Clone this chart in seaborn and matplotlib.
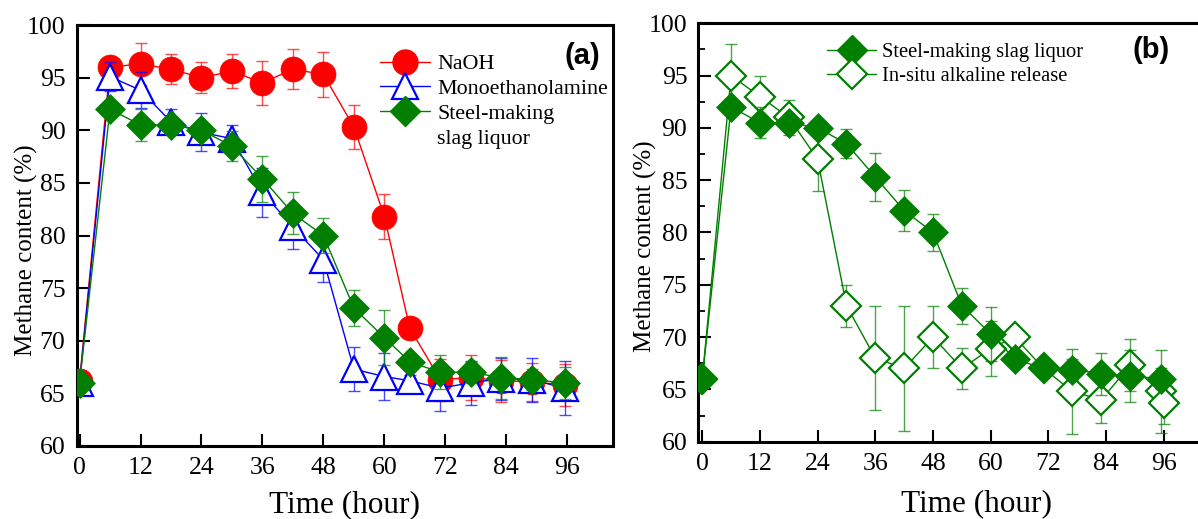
import numpy as np
import pandas as pd
import matplotlib
matplotlib.use("Agg")
import matplotlib.pyplot as plt
import seaborn as sns
from matplotlib.lines import Line2D
from matplotlib.ticker import MultipleLocator

# ---------------- data ----------------
hours = [0, 6, 12, 18, 24, 30, 36, 42, 48, 54, 60, 65, 71, 77, 83, 89, 95.5]

naoh = [66.2, 96.0, 96.3, 95.8, 95.0, 95.6, 94.5, 95.8, 95.3, 90.3, 81.8, 71.2, 66.3, 66.5, 66.2, 66.1, 65.8]
naoh_err = [0.3, 0.4, 2.0, 1.4, 1.5, 1.6, 2.1, 1.9, 2.1, 2.1, 2.1, 0.5, 2.0, 2.1, 2.0, 1.8, 2.0]

mea = [66.0, 95.1, 93.8, 90.8, 89.8, 89.2, 84.1, 80.8, 77.7, 67.3, 66.6, 66.2, 65.5, 66.0, 66.4, 66.3, 65.5]
mea_err = [0.3, 1.4, 1.7, 1.2, 1.8, 1.3, 2.3, 2.1, 2.1, 2.1, 2.2, 0.5, 2.2, 2.1, 2.0, 2.1, 2.6]

slag_a = [66.0, 92.0, 90.5, 90.5, 90.0, 88.5, 85.4, 82.1, 80.0, 73.1, 70.3, 68.0, 67.0, 67.0, 66.5, 66.3, 66.0]
slag_a_err = [0.3, 0.5, 1.5, 0.6, 0.5, 1.4, 2.2, 2.0, 1.7, 1.7, 2.6, 0.5, 1.6, 1.0, 2.0, 1.0, 1.5]

slag_b = [66.0, 92.0, 90.5, 90.5, 90.0, 88.5, 85.3, 82.1, 80.0, 73.0, 70.3, 67.9, 67.0, 66.9, 66.5, 66.3, 66.0]
slag_b_err = [0.3, 0.5, 1.5, 0.5, 0.5, 1.4, 2.3, 2.0, 1.8, 1.7, 2.6, 0.5, 0.8, 1.0, 2.0, 2.5, 1.0]

hours_insitu = [0, 6, 12, 18, 24, 30, 36, 42, 48, 54, 60, 65, 71, 77, 83, 89, 95.5, 96]
insitu = [66.0, 95.0, 93.0, 91.0, 87.0, 73.0, 68.0, 67.0, 70.0, 67.0, 68.9, 70.0, 67.0, 64.8, 64.0, 67.3, 64.8, 63.7]
insitu_err = [0.3, 3.0, 2.0, 1.7, 3.0, 2.0, 5.0, 6.0, 3.0, 2.0, 2.6, 0.4, 0.5, 4.1, 2.2, 2.5, 4.0, 2.0]

xticks = [0, 12, 24, 36, 48, 60, 72, 84, 96]
yticks = [60, 65, 70, 75, 80, 85, 90, 95, 100]

RED, BLUE, GREEN = "#FF0000", "#0000FF", "#007F00"

# ---------------- style ----------------
sns.set_theme(style="ticks")
plt.rcParams["font.family"] = ["Liberation Serif", "DejaVu Serif"]
for k in ["text.color", "axes.labelcolor", "xtick.color", "ytick.color", "axes.edgecolor"]:
    plt.rcParams[k] = "black"

W, H = 1198, 519
fig = plt.figure(figsize=(W / 100, H / 100), dpi=100)
fig.patch.set_facecolor("white")


def px_axes(x0, y0, x1, y1):
    return fig.add_axes([x0 / W, 1 - y1 / H, (x1 - x0) / W, (y1 - y0) / H])


axa = px_axes(76.5, 25, 613, 446)
axb = px_axes(698.4, 23.3, 1234, 441.7)


def series(ax, x, y, err, color, marker, ms, mfc, mew, z):
    ax.errorbar(x, y, yerr=err, fmt="none", ecolor=color, alpha=0.7,
                elinewidth=1.0, capsize=4, capthick=1.0, zorder=z)
    df = pd.DataFrame({"x": x, "y": y})
    sns.lineplot(data=df, x="x", y="y", ax=ax, color=color, lw=1.0,
                 marker=marker, markersize=ms, markerfacecolor=mfc,
                 markeredgecolor=color, markeredgewidth=mew,
                 sort=False, errorbar=None, legend=False, zorder=z + 0.5)


series(axa, hours, naoh, naoh_err, RED, "o", 18, RED, 0.5, 3)
series(axa, hours, mea, mea_err, BLUE, "^", 19, "white", 1.6, 4)
series(axa, hours, slag_a, slag_a_err, GREEN, "D", 15.5, GREEN, 0.5, 5)

series(axb, hours_insitu, insitu, insitu_err, GREEN, "D", 14.8, "white", 1.6, 3)
series(axb, hours, slag_b, slag_b_err, GREEN, "D", 14.8, GREEN, 0.5, 4)

for ax, xmin, xmax in [(axa, -0.6, 105.0), (axb, -0.8, 110.6)]:
    ax.set_xlim(xmin, xmax)
    ax.set_ylim(60, 100)
    ax.set_xticks(xticks)
    ax.set_yticks(yticks)
    ax.tick_params(axis="both", which="major", direction="in", length=9,
                   width=1.5, labelsize=18.5, pad=8)
    for sp in ax.spines.values():
        sp.set_linewidth(2.2)
        sp.set_color("black")
    ax.set_xlabel("Time (hour)", fontsize=22.5)
    ax.set_ylabel("Methane content (%)", fontsize=18)
    ax.set_facecolor("white")

axb.yaxis.set_minor_locator(MultipleLocator(2.5))
axb.tick_params(axis="y", which="minor", direction="in", length=5, width=1.3)

axa.xaxis.set_label_coords(0.5, -0.104)
axa.yaxis.set_label_coords(-0.072, 0.465)
axb.xaxis.set_label_coords(0.52, -0.114)
axb.yaxis.set_label_coords(-0.077, 0.468)

# ---------------- legends ----------------
ha = [Line2D([], [], color=RED, lw=1, marker="o", ms=18, mfc=RED, mec=RED),
      Line2D([], [], color=BLUE, lw=1, marker="^", ms=19, mfc="white", mec=BLUE, mew=1.6),
      Line2D([], [], color=GREEN, lw=1, marker="D", ms=15.5, mfc=GREEN, mec=GREEN),
      Line2D([], [], ls="none")]
la = ["NaOH", "Monoethanolamine", "Steel-making", "slag liquor"]
leg_a = axa.legend(ha, la, loc="upper left", bbox_to_anchor=(380 / W, 1 - 54 / H),
                   bbox_transform=fig.transFigure, frameon=False, fontsize=15.8,
                   handlelength=2.3, handletextpad=0.3, labelspacing=0.2,
                   borderpad=0, borderaxespad=0)

hb = [Line2D([], [], color=GREEN, lw=1, marker="D", ms=14.8, mfc=GREEN, mec=GREEN),
      Line2D([], [], color=GREEN, lw=1, marker="D", ms=14.8, mfc="white", mec=GREEN, mew=1.6)]
lb = ["Steel-making slag liquor", "In-situ alkaline release"]
leg_b = axb.legend(hb, lb, loc="upper left", bbox_to_anchor=(827 / W, 1 - 43 / H),
                   bbox_transform=fig.transFigure, frameon=False, fontsize=14.8,
                   handlelength=2.4, handletextpad=0.3, labelspacing=0.22,
                   borderpad=0, borderaxespad=0)

fig.text(582 / W, 1 - 56 / H, "(a)", family=["Liberation Sans", "DejaVu Sans"],
         weight="bold", fontsize=21, ha="center", va="center")
fig.text(1151 / W, 1 - 50 / H, "(b)", family=["Liberation Sans", "DejaVu Sans"],
         weight="bold", fontsize=21, ha="center", va="center")

fig.savefig("out.png", dpi=100)
